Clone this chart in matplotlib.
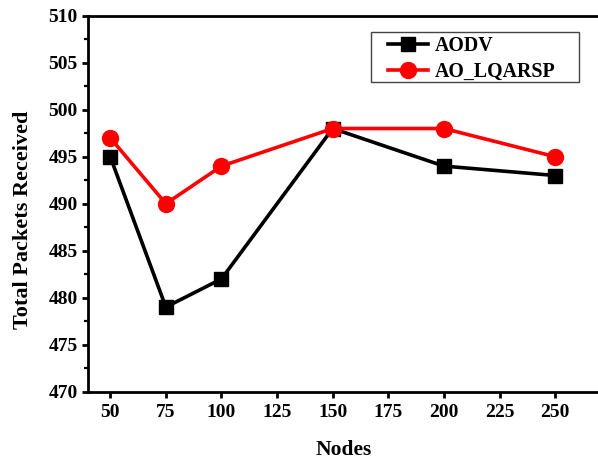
import matplotlib
matplotlib.use("Agg")
import matplotlib.pyplot as plt
from matplotlib.patches import Rectangle
from matplotlib.ticker import MultipleLocator

nodes = [50, 75, 100, 150, 200, 250]
aodv = [495, 479, 482, 498, 494, 493]
ao_lqarsp = [497, 490, 494, 498, 498, 495]
x_ticks = [50, 75, 100, 125, 150, 175, 200, 225, 250]
y_ticks = [470, 475, 480, 485, 490, 495, 500, 505, 510]

plt.rcParams["font.family"] = ["Liberation Serif", "DejaVu Serif"]
plt.rcParams["font.weight"] = "bold"

W, H = 598, 459
fig = plt.figure(figsize=(W / 100, H / 100), dpi=100)
left, right, top, bottom = 88, 599.6, 15.7, 391.7
ax = fig.add_axes([left / W, (H - bottom) / H, (right - left) / W, (bottom - top) / H])


def to_axes(px, py):
    """Pixel position (from top-left of figure) to axes fraction."""
    return (px - left) / (right - left), (bottom - py) / (bottom - top)


ax.plot(nodes, aodv, color="black", lw=2.6, marker="s", markersize=10,
        label="AODV", zorder=3)
ax.plot(nodes, ao_lqarsp, color="#ff0000", lw=2.6, marker="o", markersize=11.5,
        label="AO_LQARSP", zorder=4)

ax.set_xlim(40, 270)
ax.set_ylim(470, 510)
ax.set_xticks(x_ticks)
ax.set_yticks(y_ticks)
ax.yaxis.set_minor_locator(MultipleLocator(2.5))

for s in ["left", "bottom", "top"]:
    ax.spines[s].set_linewidth(2.0)
ax.spines["right"].set_visible(False)

ax.tick_params(axis="both", which="major", direction="out", length=4.5, width=2,
               labelsize=14)
ax.tick_params(axis="y", which="minor", direction="out", length=3, width=1.6)
ax.tick_params(axis="x", which="major", pad=4)
ax.tick_params(axis="y", which="major", pad=3)
for lab in ax.get_xticklabels() + ax.get_yticklabels():
    lab.set_fontweight("bold")

ax.set_xlabel("Nodes", fontsize=15.5, fontweight="bold")
ax.set_ylabel("Total Packets Received", fontsize=16, fontweight="bold")
ax.xaxis.set_label_coords(0.5, -(455 - bottom) / (bottom - top))
ax.xaxis.label.set_va("baseline")
ax.yaxis.set_label_coords(*to_axes(33, 220))

# legend box frame
x0, y0 = to_axes(371, 82)
x1, y1 = to_axes(579, 32)
ax.add_patch(Rectangle((x0, y0), x1 - x0, y1 - y0, transform=ax.transAxes,
                       facecolor="white", edgecolor="#444444", lw=1.0,
                       zorder=5, clip_on=False))

leg = ax.legend(loc="upper left", bbox_to_anchor=to_axes(388, 36),
                frameon=False, prop={"weight": "bold", "size": 14.3},
                handlelength=2.0, borderpad=0, labelspacing=0.3,
                handletextpad=0.35, borderaxespad=0)
leg.set_zorder(6)

fig.savefig("out.png", dpi=100)
